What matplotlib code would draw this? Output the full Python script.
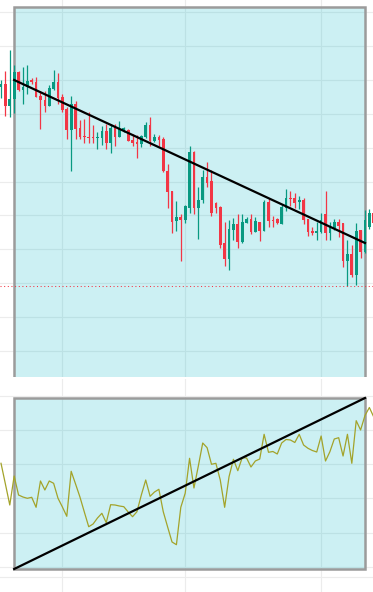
import matplotlib.pyplot as plt
from matplotlib.patches import Rectangle

# ---- Dati ----
# candele (open, high, low, close)
opens = [41.33, 41.6, 39.4, 40.1, 42.8, 41.0, 41.27, 41.95, 41.8, 40.43,
         40.0, 39.43, 41.1, 41.8, 40.33, 39.13, 37.03, 39.6, 37.2, 36.42,
         36.35, 36.35, 36.25, 36.23, 36.9, 35.73, 37.3, 36.33, 36.95, 37.05,
         36.02, 35.83, 35.63, 36.3, 37.5, 35.92, 36.3, 36.1, 32.9, 30.9,
         27.93, 28.3, 28.0, 29.17, 34.83, 29.17, 30.0, 32.33, 31.9, 29.73,
         29.33, 25.67, 24.1, 27.0, 27.57, 25.8, 27.73, 28.1, 26.83, 27.8,
         26.93, 29.83, 28.05, 28.1, 27.63, 29.23, 30.22, 30.23, 29.8, 30.03,
         28.13, 26.93, 26.73, 26.77, 28.63, 26.73, 27.17, 27.83, 27.67, 23.93,
         24.6, 22.5, 27.0, 24.83, 27.33, 28.67]
highs = [42.0, 42.9, 45.0, 43.5, 42.93, 43.3, 43.5, 42.2, 42.27, 40.87,
         40.93, 41.5, 43.0, 42.7, 40.57, 39.33, 40.4, 39.93, 38.0, 38.1,
         38.8, 37.53, 36.83, 37.4, 37.6, 37.6, 37.57, 37.9, 37.33, 37.13,
         36.57, 36.48, 36.55, 37.83, 38.3, 36.63, 36.48, 36.33, 33.57, 30.9,
         29.9, 28.57, 29.53, 35.43, 34.95, 31.33, 33.0, 33.8, 33.0, 29.83,
         29.4, 27.83, 28.0, 28.17, 28.6, 28.6, 28.33, 28.6, 28.33, 27.8,
         30.0, 30.17, 28.4, 28.17, 29.5, 31.1, 30.9, 30.67, 30.43, 30.17,
         28.13, 27.33, 27.83, 28.73, 30.87, 27.83, 28.07, 28.07, 27.73, 26.0,
         25.47, 27.67, 27.0, 29.0, 29.07, 29.0]
lows = [40.23, 38.43, 38.33, 38.7, 40.93, 39.6, 40.57, 41.6, 40.3, 37.13,
        38.83, 39.4, 40.97, 39.6, 38.83, 36.13, 32.93, 36.07, 36.13, 35.73,
        35.73, 35.73, 35.13, 35.53, 35.13, 34.73, 35.43, 36.27, 36.77, 35.9,
        35.42, 34.23, 35.3, 36.25, 35.4, 35.78, 35.43, 32.77, 29.23, 26.67,
        26.93, 23.93, 27.73, 28.67, 28.6, 26.13, 29.7, 31.33, 28.4, 28.73,
        25.23, 23.4, 23.0, 26.0, 25.17, 25.67, 27.67, 26.57, 26.8, 25.93,
        26.93, 27.33, 27.33, 27.6, 27.6, 28.93, 29.4, 29.2, 29.13, 27.57,
        26.4, 26.5, 26.0, 26.73, 26.0, 26.0, 27.0, 26.33, 23.27, 21.4,
        22.33, 21.5, 24.17, 24.7, 27.1, 27.4]
closes = [41.6, 39.4, 40.1, 42.8, 41.0, 41.3, 41.9, 41.85, 40.33, 40.03,
          39.4, 41.2, 41.8, 40.23, 39.0, 37.03, 39.6, 37.13, 36.33, 36.32,
          36.25, 36.25, 36.35, 36.9, 35.7, 37.23, 36.33, 37.07, 37.17, 35.92,
          35.73, 35.63, 36.4, 37.5, 35.93, 36.33, 36.03, 32.9, 30.8, 27.83,
          28.3, 28.0, 29.4, 34.8, 29.17, 30.0, 32.33, 31.73, 28.73, 29.23,
          25.5, 24.1, 27.1, 27.6, 25.83, 27.77, 28.1, 26.83, 27.9, 26.93,
          29.83, 27.9, 27.95, 27.67, 29.33, 30.17, 30.12, 29.73, 30.0, 28.0,
          26.83, 26.73, 26.9, 28.0, 26.73, 27.4, 27.8, 27.4, 23.93, 24.6,
          22.5, 26.9, 24.83, 28.0, 28.67, 27.67]

# indicatore del pannello inferiore
indicator = [13.67, 11.6, 9.5, 12.4, 10.5, 10.3, 10.17, 10.27, 9.27, 11.9,
             11.0, 11.9, 11.67, 10.17, 9.3, 8.37, 12.87, 11.6, 10.3, 8.8,
             7.33, 7.6, 8.2, 8.67, 7.73, 9.53, 9.5, 9.4, 9.33, 8.8,
             8.33, 8.83, 10.5, 12.0, 10.37, 10.8, 11.07, 8.83, 7.3, 5.8,
             5.53, 9.27, 10.67, 14.17, 11.2, 13.4, 15.7, 15.23, 13.57, 13.67,
             12.0, 9.27, 12.33, 14.07, 12.93, 14.23, 14.2, 13.3, 13.9, 14.1,
             16.57, 14.77, 14.85, 14.6, 15.7, 16.05, 16.0, 15.75, 16.57, 15.5,
             15.17, 14.95, 14.8, 16.4, 13.9, 14.83, 16.1, 16.23, 14.4, 16.57,
             13.67, 17.93, 17.0, 18.45, 19.25, 18.3]

# disegni: trendline e rettangoli
trend_x = [3, 83]
trend_y = [42.0, 25.7]
box_x = [3, 83]
box_top_y = [10.0, 49.3]
box_bot_y = [3.1, 20.2]

# linee della griglia
price_grid = [48.77, 45.38, 42.0, 38.61, 35.23, 31.84, 28.46, 25.07, 21.69, 18.3, 14.92]
ind_grid = [20.4, 17.0, 13.6, 10.2, 6.7, 3.3]
time_grid = [14, 42, 73]

UP = "#089981"
DOWN = "#F23645"
FILL = (0.0, 0.71, 0.77, 0.2)
BORDER = "#9b9b9b"
GRID = "#ececec"

# ---- Plot ----
fig = plt.figure(figsize=(3.73, 5.92), dpi=100)
ax1 = fig.add_axes([0, 1 - 377 / 592, 1, 377 / 592])
ax2 = fig.add_axes([0, 0, 1, 213 / 592])

xlim = (-0.23, 84.83)
for ax in (ax1, ax2):
    ax.set_xlim(*xlim)
    ax.set_xticks([])
    ax.set_yticks([])
    for s in ax.spines.values():
        s.set_visible(False)
    for t in time_grid:
        ax.axvline(t, color=GRID, lw=0.8, zorder=0)

ax1.set_ylim(12.3, 50)
ax2.set_ylim(0.8, 22.1)

for g in price_grid:
    ax1.axhline(g, color=GRID, lw=0.8, zorder=0)
for g in ind_grid:
    ax2.axhline(g, color=GRID, lw=0.8, zorder=0)
ax2.axhline(2.3, color=GRID, lw=0.8, zorder=0)

# rettangoli evidenziati
ax1.add_patch(Rectangle((box_x[0], box_top_y[0]), box_x[1] - box_x[0],
                        box_top_y[1] - box_top_y[0], facecolor=FILL,
                        edgecolor=BORDER, lw=1.8, zorder=1))
ax2.add_patch(Rectangle((box_x[0], box_bot_y[0]), box_x[1] - box_x[0],
                        box_bot_y[1] - box_bot_y[0], facecolor=FILL,
                        edgecolor=BORDER, lw=1.8, zorder=1))

# candele
w = 0.62
for i in range(len(opens)):
    o, h, l, c = opens[i], highs[i], lows[i], closes[i]
    col = UP if c >= o else DOWN
    ax1.vlines(i, l, h, color=col, lw=0.9, zorder=2)
    lo, hi = min(o, c), max(o, c)
    ax1.add_patch(Rectangle((i - w / 2, lo), w, max(hi - lo, 0.08),
                            facecolor=col, edgecolor="none", zorder=3))

ax1.plot(trend_x, trend_y, color="black", lw=1.6, zorder=4)
ax1.axhline(min(lows), color=DOWN, lw=0.75, linestyle=(0, (1, 2.5)), zorder=4)

# pannello inferiore
ax2.plot(range(len(indicator)), indicator, color="#a3a32a", lw=0.9, zorder=3)
ax2.plot(box_x, box_bot_y, color="black", lw=1.6, zorder=4)

fig.savefig("out.png", dpi=100)
